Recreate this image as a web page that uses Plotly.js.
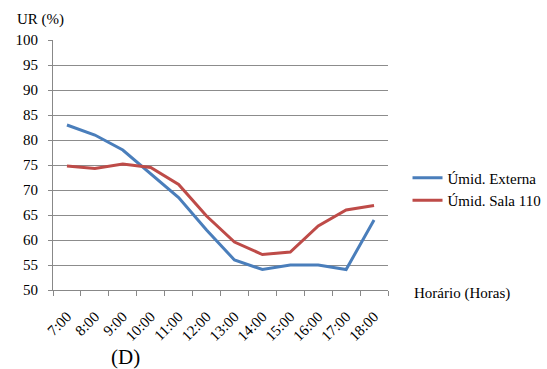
<!DOCTYPE html>
<html>
<head>
<meta charset="utf-8">
<script src="https://cdn.plot.ly/plotly-3.0.1.min.js"></script>
<style>
  html, body { margin: 0; padding: 0; background: #fff; }
  #chart { width: 547px; height: 369px; }
</style>
</head>
<body>
<div id="chart"></div>
<script>
// Hourly relative humidity readings
const hours = ['7:00', '8:00', '9:00', '10:00', '11:00', '12:00',
               '13:00', '14:00', '15:00', '16:00', '17:00', '18:00'];
const umidExterna = [83, 81, 78, 73.3, 68.5, 62, 56, 54.1, 55, 55, 54.1, 64];
const umidSala110 = [74.8, 74.3, 75.2, 74.5, 71.1, 64.8, 59.6, 57.1, 57.6, 62.8, 66, 66.9];
const yTicks = [50, 55, 60, 65, 70, 75, 80, 85, 90, 95, 100];

const serif = '"Liberation Serif", "Times New Roman", "DejaVu Serif", serif';

const traces = [
  {
    x: hours, y: umidExterna, name: 'Úmid. Externa',
    type: 'scatter', mode: 'lines',
    line: { color: '#4a7ebb', width: 3 }
  },
  {
    x: hours, y: umidSala110, name: 'Úmid. Sala 110',
    type: 'scatter', mode: 'lines',
    line: { color: '#be4b48', width: 3 }
  }
];

const layout = {
  width: 547, height: 369,
  margin: { l: 53, r: 159, t: 40, b: 79 },
  paper_bgcolor: '#fff', plot_bgcolor: '#fff',
  font: { family: serif, size: 15, color: '#000' },
  showlegend: true,
  legend: {
    xref: 'container', yref: 'container',
    x: 0.745, xanchor: 'left',
    y: 0.488, yanchor: 'middle',
    font: { family: serif, size: 15, color: '#000' },
    tracegroupgap: 2
  },
  xaxis: {
    type: 'category',
    tickangle: -45,
    ticks: 'outside', ticklen: 5, tickcolor: '#888',
    tickson: 'boundaries',
    ticklabelstandoff: 11,
    showgrid: false, zeroline: false,
    showline: true, linecolor: '#888', linewidth: 1,
    tickfont: { family: serif, size: 15, color: '#000' },
    range: [-0.5, 11.5]
  },
  yaxis: {
    range: [50, 100],
    tickvals: yTicks,
    ticks: 'outside', ticklen: 4, tickcolor: '#888',
    ticklabelstandoff: 7,
    showgrid: true, gridcolor: '#8c8c8c', gridwidth: 1,
    zeroline: false,
    showline: true, linecolor: '#888', linewidth: 1,
    tickfont: { family: serif, size: 15, color: '#000' }
  },
  annotations: [
    { text: 'UR (%)', xref: 'paper', yref: 'paper', x: -0.113, y: 1.04,
      xanchor: 'left', yanchor: 'bottom', showarrow: false,
      font: { family: serif, size: 15, color: '#000' } },
    { text: 'Horário (Horas)', xref: 'paper', yref: 'paper', x: 1.072, y: -0.012,
      xanchor: 'left', yanchor: 'middle', showarrow: false,
      font: { family: serif, size: 15, color: '#000' } },
    { text: '(D)', xref: 'paper', yref: 'paper', x: 0.215, y: -0.268,
      xanchor: 'center', yanchor: 'middle', showarrow: false,
      font: { family: serif, size: 21, color: '#000' } }
  ]
};

Plotly.newPlot('chart', traces, layout, { displayModeBar: false, staticPlot: true });
</script>
</body>
</html>
